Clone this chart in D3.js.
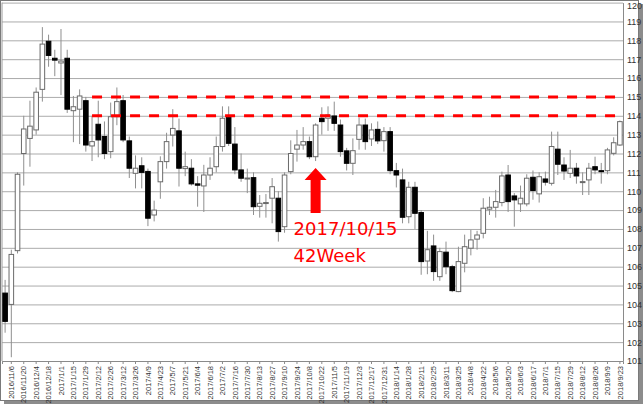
<!DOCTYPE html>
<html>
<head>
<meta charset="utf-8">
<script src="https://cdn.jsdelivr.net/npm/d3@7"></script>
<style>
  body { margin: 0; background: #fff; }
  svg { display: block; }
</style>
</head>
<body>
<div id="chart"></div>
<script>
// Weekly USD/JPY candles, 2016/10/30 .. 2018/9/23

const tickLabels = [
  "2016/11/6", "2016/11/20", "2016/12/4", "2016/12/18", "2017/1/1", "2017/1/15", "2017/1/29",
  "2017/2/12", "2017/2/26", "2017/3/12", "2017/3/26", "2017/4/9", "2017/4/23", "2017/5/7",
  "2017/5/21", "2017/6/4", "2017/6/18", "2017/7/2", "2017/7/16", "2017/7/30", "2017/8/13",
  "2017/8/27", "2017/9/10", "2017/9/24", "2017/10/8", "2017/10/22", "2017/11/5", "2017/11/19",
  "2017/12/3", "2017/12/17", "2017/12/31", "2018/1/14", "2018/1/28", "2018/2/11", "2018/2/25",
  "2018/3/11", "2018/3/25", "2018/4/8", "2018/4/22", "2018/5/6", "2018/5/20", "2018/6/3",
  "2018/6/17", "2018/7/1", "2018/7/15", "2018/7/29", "2018/8/12", "2018/8/26", "2018/9/9", "2018/9/23"
];

const openP = [
  104.6, 104.0, 106.85, 112.0, 112.8, 113.25, 115.4, 117.95, 117.05, 116.8,
  117.05, 114.27, 114.35, 114.8, 112.4, 113.55, 112.9, 112.1, 113.95, 114.8,
  112.67, 110.95, 111.35, 111.05, 108.74, 110.5, 111.57, 112.98, 113.2, 111.2,
  111.22, 110.39, 110.28, 110.86, 111.3, 112.37, 113.92, 112.5, 111.13, 110.65,
  110.72, 109.2, 109.35, 109.63, 109.63, 108.12, 111.04, 112.23, 112.45, 112.63,
  111.83, 113.87, 113.87, 113.99, 113.51, 112.14, 111.48, 112.75, 113.51, 112.77,
  113.28, 112.68, 113.16, 111.09, 110.6, 108.65, 110.21, 108.87, 106.3, 107.1,
  105.47, 106.77, 106.0, 104.68, 106.18, 106.98, 107.46, 107.77, 109.05, 109.15,
  109.4, 110.86, 109.75, 109.33, 109.33, 110.74, 109.86, 110.65, 110.42, 112.23,
  111.39, 110.95, 111.22, 110.5, 110.6, 111.3, 111.09, 111.09, 112.01, 112.45
];
const highP = [
  105.3, 106.9, 111.0, 114.0, 114.8, 115.5, 118.7, 118.3, 117.5, 118.6,
  117.5, 115.05, 115.4, 115.0, 114.0, 114.8, 113.7, 114.7, 115.5, 115.1,
  112.9, 111.9, 111.8, 111.2, 109.5, 111.85, 113.1, 114.35, 113.85, 112.1,
  111.7, 110.8, 111.4, 111.8, 112.9, 114.5, 114.5, 113.4, 112.0, 111.2,
  111.0, 109.8, 109.85, 110.7, 110.0, 111.0, 112.7, 113.25, 113.4, 112.9,
  113.6, 114.45, 114.5, 114.75, 113.8, 112.3, 112.8, 113.9, 113.85, 113.6,
  113.7, 113.4, 113.4, 111.5, 111.2, 110.5, 110.5, 109.0, 107.9, 107.7,
  107.0, 107.33, 106.1, 107.06, 107.7, 107.95, 107.9, 109.63, 109.71, 110.07,
  111.04, 111.39, 109.9, 110.3, 110.9, 111.1, 111.0, 111.04, 113.16, 113.16,
  111.8, 112.19, 111.5, 111.0, 111.5, 111.83, 111.5, 112.3, 112.86, 113.75
];
const lowP = [
  102.5, 101.2, 106.7, 110.3, 111.3, 113.0, 114.75, 116.6, 116.1, 115.1,
  114.15, 112.6, 112.5, 112.1, 111.6, 111.8, 111.7, 111.75, 113.5, 112.6,
  110.7, 110.15, 110.15, 108.15, 108.4, 109.6, 111.2, 112.37, 110.25, 110.8,
  110.3, 109.18, 108.9, 110.6, 111.0, 112.1, 112.4, 110.9, 110.5, 109.9,
  108.74, 108.6, 108.6, 108.3, 107.33, 107.8, 110.9, 111.57, 112.2, 111.7,
  111.6, 113.0, 113.2, 113.2, 111.83, 111.1, 110.86, 112.2, 112.2, 112.4,
  112.5, 112.1, 110.9, 110.2, 108.3, 108.3, 108.0, 105.57, 105.6, 105.25,
  105.25, 105.6, 104.65, 104.65, 105.7, 106.6, 106.9, 107.5, 108.74, 108.6,
  109.2, 108.9, 108.12, 108.9, 109.2, 109.55, 109.4, 110.3, 110.3, 110.86,
  110.6, 110.7, 110.4, 109.8, 109.8, 110.9, 110.4, 110.9, 111.9, 112.4
];
const closeP = [
  103.1, 106.65, 110.9, 113.3, 113.45, 115.25, 117.8, 117.2, 116.95, 116.9,
  114.35, 114.48, 115.05, 112.45, 112.63, 112.72, 112.0, 113.95, 114.75, 112.72,
  111.22, 111.22, 111.0, 108.57, 109.0, 111.57, 112.63, 113.33, 111.22, 111.3,
  110.39, 110.32, 110.86, 111.22, 112.37, 113.87, 112.54, 111.13, 110.69, 110.7,
  109.18, 109.36, 109.4, 110.24, 107.86, 110.86, 112.0, 112.45, 112.63, 111.83,
  113.51, 113.69, 114.04, 113.6, 112.1, 111.48, 112.15, 113.51, 112.63, 113.25,
  112.67, 113.16, 111.09, 110.86, 108.62, 110.21, 108.83, 106.27, 106.9, 105.74,
  106.8, 106.0, 104.73, 106.27, 107.06, 107.42, 107.68, 109.1, 109.15, 109.45,
  110.81, 109.45, 109.54, 109.63, 110.69, 110.04, 110.77, 110.48, 112.37, 111.43,
  111.07, 111.22, 110.81, 110.51, 111.22, 111.13, 111.04, 112.19, 112.57, 113.69
];

const yTicks = d3.range(101, 121);
const resistanceLevels = [115, 114];
const resistanceStart = 14;      // candle where the dashed lines begin
const markIndex = 50;            // 2017/10/15
const markText = ["2017/10/15", "42Week"];

const width = 644, height = 405;
const plot = { left: 2, right: 623, top: 2.6, bottom: 361 };

const candles = openP.map((o, i) => ({ i, o, h: highP[i], l: lowP[i], c: closeP[i] }));

const svg = d3.select("#chart").append("svg")
    .attr("width", width)
    .attr("height", height);

// frame with a drop shadow
svg.append("rect")
    .attr("x", 4).attr("y", 4)
    .attr("width", 639).attr("height", 400)
    .attr("fill", "#8c8c8c");
svg.append("rect")
    .attr("x", 0.5).attr("y", 0.5)
    .attr("width", 638).attr("height", 400)
    .attr("fill", "#fff")
    .attr("stroke", "#7a7a7a");

const x = d3.scaleBand()
    .domain(candles.map(d => d.i))
    .range([plot.left, plot.right])
    .paddingInner(0.1)
    .paddingOuter(0.05);

const y = d3.scaleLinear()
    .domain([101, 120])
    .range([plot.bottom, plot.top]);

const cx = i => x(i) + x.bandwidth() / 2;

// gridlines
const grid = svg.append("g")
    .attr("transform", `translate(${plot.left},0)`)
    .call(d3.axisRight(y).tickValues(yTicks).tickSize(plot.right - plot.left).tickFormat(""));
grid.select(".domain").remove();
grid.selectAll("line").attr("stroke", "#ababab").attr("stroke-width", 1);

// left plot border
svg.append("line")
    .attr("x1", plot.left).attr("x2", plot.left)
    .attr("y1", plot.top).attr("y2", plot.bottom)
    .attr("stroke", "#9a9a9a");

// right price axis
const yAxis = svg.append("g")
    .attr("transform", `translate(${plot.right},0)`)
    .call(d3.axisRight(y).tickValues(yTicks).tickSize(0).tickPadding(4));
yAxis.select(".domain").attr("stroke", "#8a8a8a");
yAxis.selectAll("text")
    .attr("dy", d => d === 120 ? "0.6em" : "0.32em")
    .style("font-family", "Liberation Sans, Arial, sans-serif")
    .style("font-size", "9px")
    .attr("fill", "#333");

// bottom date axis, every other week
const xAxis = svg.append("g")
    .attr("transform", `translate(0,${plot.bottom})`)
    .call(d3.axisBottom(x)
        .tickValues(candles.filter(d => d.i % 2 === 1).map(d => d.i))
        .tickFormat(i => tickLabels[(i - 1) / 2])
        .tickSize(3));
xAxis.select(".domain").attr("stroke", "#8a8a8a");
xAxis.selectAll("line").attr("stroke", "#8a8a8a");
xAxis.selectAll("text")
    .attr("transform", "rotate(-90)")
    .attr("text-anchor", "end")
    .attr("x", -5)
    .attr("y", 0)
    .attr("dy", "0.35em")
    .style("font-family", "Liberation Sans, Arial, sans-serif")
    .style("font-size", "7.5px")
    .attr("fill", "#333");

// wicks
svg.append("g").selectAll("line")
    .data(candles)
    .join("line")
    .attr("x1", d => cx(d.i)).attr("x2", d => cx(d.i))
    .attr("y1", d => y(d.h)).attr("y2", d => y(d.l))
    .attr("stroke", "#8f8f8f")
    .attr("stroke-width", 1);

// bodies
svg.append("g").selectAll("rect")
    .data(candles)
    .join("rect")
    .attr("x", d => x(d.i) + 0.5)
    .attr("width", x.bandwidth() - 1)
    .attr("y", d => y(Math.max(d.o, d.c)))
    .attr("height", d => Math.max(1, Math.abs(y(d.o) - y(d.c))))
    .attr("fill", d => d.c < d.o ? "#000" : "#fff")
    .attr("stroke", d => d.c < d.o ? "#000" : "#6a6a6a")
    .attr("stroke-width", 1);

// resistance lines
svg.append("g").selectAll("line")
    .data(resistanceLevels)
    .join("line")
    .attr("x1", cx(resistanceStart))
    .attr("x2", plot.right)
    .attr("y1", d => y(d)).attr("y2", d => y(d))
    .attr("stroke", "#ff0000")
    .attr("stroke-width", 3)
    .attr("stroke-dasharray", "10,9");

// red arrow under the marked week
const ax = cx(markIndex);
const tipY = y(lowP[markIndex]) + 7;
const headY = tipY + 12;
const baseY = tipY + 45;
svg.append("path")
    .attr("d", `M${ax},${tipY} L${ax + 11},${headY} L${ax + 5},${headY} L${ax + 5},${baseY}
                L${ax - 5},${baseY} L${ax - 5},${headY} L${ax - 11},${headY} Z`)
    .attr("fill", "#ff0000");

svg.append("g").selectAll("text")
    .data(markText)
    .join("text")
    .attr("x", ax - 22)
    .attr("y", (d, i) => baseY + 22 + i * 27)
    .attr("fill", "#ff0000")
    .style("font-family", "DejaVu Sans, sans-serif")
    .style("font-size", "18px")
    .text(d => d);
</script>
</body>
</html>
